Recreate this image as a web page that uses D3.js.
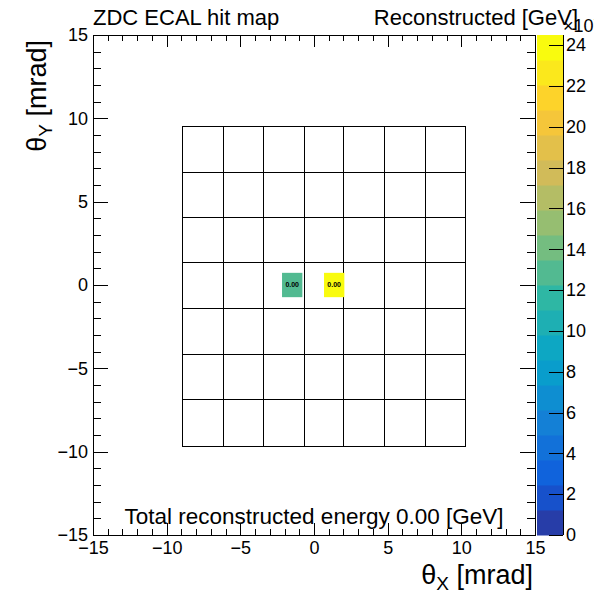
<!DOCTYPE html>
<meta charset="utf-8">
<style>
body { margin: 0; background: #fff; }
svg { display: block; font-family: "Liberation Sans", Arial, sans-serif; }
.axis text { font-size: 18px; fill: #000; }
.axis line { stroke: #000; shape-rendering: crispEdges; }
.cell { fill: none; stroke: #000; shape-rendering: crispEdges; }
</style>
<body>
<script src="https://cdnjs.cloudflare.com/ajax/libs/d3/7.8.5/d3.min.js"></script>
<script>

// ZDC ECAL tower edges [mrad]
var xEdges = [-8.96, -6.20, -3.44, -0.70, 1.99, 4.73, 7.51, 10.27];
var yEdges = [-9.64, -6.86, -4.14, -1.40, 1.38, 4.10, 6.76, 9.52];

// hits: centre [mrad], energy [GeV]
var hitX = [-1.48, 1.37];
var hitY = [0.0, 0.0];
var hitE = [12.8e-6, 24.5e-6];
var hitHalfW = 0.69, hitHalfH = 0.73;

var zMax = 24.5;        // in units of 1e-6 GeV
var zTicks = [0, 2, 4, 6, 8, 10, 12, 14, 16, 18, 20, 22, 24];
var nContours = 20;

var totalE = 0.0;

// kBird palette
var birdStops = [0, .125, .25, .375, .5, .625, .75, .875, 1];
var birdR = [0.2082, 0.0592, 0.0780, 0.0232, 0.1802, 0.5301, 0.8186, 0.9956, 0.9764];
var birdG = [0.1664, 0.3599, 0.5041, 0.6419, 0.7178, 0.7492, 0.7328, 0.7862, 0.9832];
var birdB = [0.5293, 0.8684, 0.8385, 0.7914, 0.6425, 0.4662, 0.3499, 0.1968, 0.0539];

var bird = d3.scaleLinear()
    .domain(birdStops)
    .range(birdStops.map(function(s, i) {
      return d3.rgb(birdR[i] * 255, birdG[i] * 255, birdB[i] * 255);
    }))
    .interpolate(d3.interpolateRgb);

function contourColor(i) {
  var idx = Math.floor((i + 0.99) * 255 / nContours);
  return bird(Math.min(idx, 254) / 254);
}

var W = 594, H = 598;
var fLeft = 93, fRight = 535, fTop = 35, fBottom = 535;

var x = d3.scaleLinear().domain([-15, 15]).range([fLeft, fRight]);
var y = d3.scaleLinear().domain([-15, 15]).range([fBottom, fTop]);
var z = d3.scaleLinear().domain([0, zMax]).range([fBottom, fTop]);

var svg = d3.select("body").append("svg")
    .attr("width", W)
    .attr("height", H);

// tower grid
for (var i = 0; i < xEdges.length - 1; i++) {
  for (var j = 0; j < yEdges.length - 1; j++) {
    svg.append("rect")
        .attr("class", "cell")
        .attr("x", Math.round(x(xEdges[i])) + 0.5)
        .attr("y", Math.round(y(yEdges[j + 1])) + 0.5)
        .attr("width", Math.round(x(xEdges[i + 1])) - Math.round(x(xEdges[i])))
        .attr("height", Math.round(y(yEdges[j])) - Math.round(y(yEdges[j + 1])));
  }
}

// hits
var hits = hitE.map(function(e, i) { return {x: hitX[i], y: hitY[i], e: e}; });

var hg = svg.selectAll(".hit")
    .data(hits)
  .enter().append("g")
    .attr("class", "hit");

hg.append("rect")
    .attr("x", function(d) { return x(d.x - hitHalfW); })
    .attr("y", function(d) { return y(d.y + hitHalfH); })
    .attr("width", function(d) { return x(d.x + hitHalfW) - x(d.x - hitHalfW); })
    .attr("height", function(d) { return y(d.y - hitHalfH) - y(d.y + hitHalfH); })
    .style("fill", function(d) {
      var band = Math.min(nContours - 1, Math.floor(d.e * 1e6 / zMax * nContours));
      return contourColor(band);
    });

hg.append("text")
    .attr("x", function(d) { return x(d.x); })
    .attr("y", function(d) { return y(d.y); })
    .attr("dy", "0.35em")
    .attr("text-anchor", "middle")
    .style("font-size", "7px")
    .style("font-weight", "bold")
    .text(function(d) { return d3.format(".2f")(d.e); });

// axes
var major = d3.range(-15, 16, 5);
var minor = d3.range(-15, 16, 1).filter(function(v) { return v % 5 !== 0; });

function addAxis(axis, tx, ty) {
  var g = svg.append("g")
      .attr("class", "axis")
      .attr("transform", "translate(" + tx + "," + ty + ")")
      .call(axis);
  g.select(".domain").remove();
  return g;
}

addAxis(d3.axisBottom(x).tickValues(major).tickSize(-12).tickPadding(6), 0, fBottom);
addAxis(d3.axisBottom(x).tickValues(minor).tickSize(-6).tickFormat(""), 0, fBottom);
addAxis(d3.axisTop(x).tickValues(major).tickSize(-12).tickFormat(""), 0, fTop);
addAxis(d3.axisTop(x).tickValues(minor).tickSize(-6).tickFormat(""), 0, fTop);
addAxis(d3.axisLeft(y).tickValues(major).tickSize(-15).tickPadding(5), fLeft, 0);
addAxis(d3.axisLeft(y).tickValues(minor).tickSize(-8).tickFormat(""), fLeft, 0);
addAxis(d3.axisRight(y).tickValues(major).tickSize(-15).tickFormat(""), fRight, 0);
addAxis(d3.axisRight(y).tickValues(minor).tickSize(-8).tickFormat(""), fRight, 0);

svg.append("rect")
    .attr("x", fLeft + 0.5).attr("y", fTop + 0.5)
    .attr("width", fRight - fLeft).attr("height", fBottom - fTop)
    .style("fill", "none").style("stroke", "#000")
    .style("shape-rendering", "crispEdges");

// colour bar
var cbL = 537, cbR = 563;
var bands = d3.range(nContours);
svg.selectAll(".band")
    .data(bands)
  .enter().append("rect")
    .attr("class", "band")
    .attr("x", cbL)
    .attr("width", cbR - cbL)
    .attr("y", function(d) { return z((d + 1) * zMax / nContours); })
    .attr("height", function(d) { return z(d * zMax / nContours) - z((d + 1) * zMax / nContours) + 0.5; })
    .style("fill", function(d) { return contourColor(d); });

addAxis(d3.axisRight(z).tickValues(zTicks).tickSize(-14).tickPadding(3), cbR, 0);
svg.append("line")
    .attr("x1", cbR + 0.5).attr("x2", cbR + 0.5)
    .attr("y1", fTop).attr("y2", fBottom)
    .style("stroke", "#000");

var mult = svg.append("text")
    .attr("x", 563).attr("y", 32)
    .style("font-size", "18px");
mult.append("tspan").text("\u00d710");
mult.append("tspan").attr("dy", -8).style("font-size", "13px").text("\u22126");

// titles
svg.append("text")
    .attr("x", fLeft).attr("y", 25)
    .style("font-size", "22px")
    .text("ZDC ECAL hit map");

svg.append("text")
    .attr("x", 578).attr("y", 25)
    .attr("text-anchor", "end")
    .style("font-size", "22px")
    .text("Reconstructed [GeV]");

svg.append("text")
    .attr("x", x(0)).attr("y", 524)
    .attr("text-anchor", "middle")
    .style("font-size", "22.5px")
    .text("Total reconstructed energy " + d3.format(".2f")(totalE) + " [GeV]");

var xt = svg.append("text")
    .attr("x", 533).attr("y", 584)
    .attr("text-anchor", "end")
    .style("font-size", "27px");
xt.append("tspan").text("\u03b8");
xt.append("tspan").attr("dy", 6).style("font-size", "19px").text("X");
xt.append("tspan").attr("dy", -6).text(" [mrad]");

var yt = svg.append("text")
    .attr("transform", "translate(46,40) rotate(-90)")
    .attr("text-anchor", "end")
    .style("font-size", "27px");
yt.append("tspan").text("\u03b8");
yt.append("tspan").attr("dy", 6).style("font-size", "19px").text("Y");
yt.append("tspan").attr("dy", -6).text(" [mrad]");

</script>
